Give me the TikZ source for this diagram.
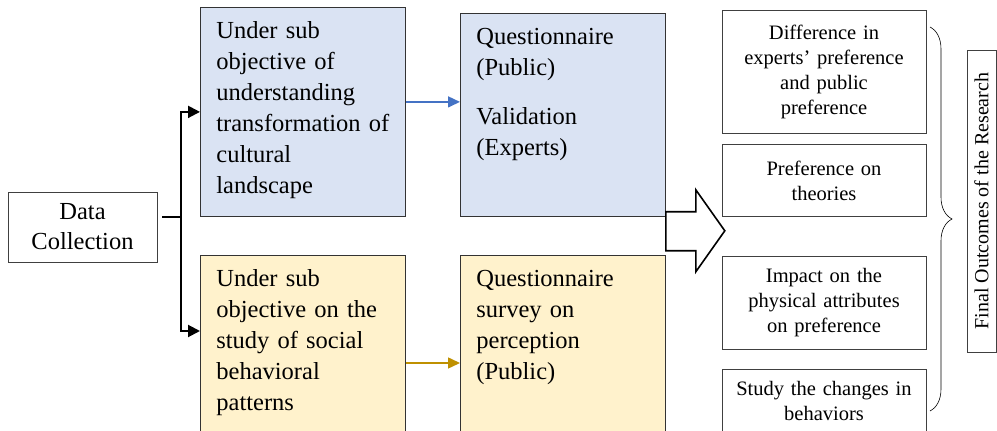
\documentclass[tikz,border=0pt]{standalone}
\usepackage{fontspec}
\setmainfont{Liberation Serif}
\usetikzlibrary{arrows.meta, positioning, decorations.pathreplacing}

\definecolor{subblue}{HTML}{DAE3F3}
\definecolor{subyellow}{HTML}{FFF2CC}
\definecolor{lineblue}{HTML}{4472C4}
\definecolor{linegold}{HTML}{BF9000}

\begin{document}
\begin{tikzpicture}[x=1pt, y=1pt, >=Triangle,
    stagebox/.style={draw=black!80, line width=0.8pt, anchor=north west,
      text width=173pt, inner xsep=16pt, inner ysep=0pt, align=left,
      font=\fontsize{24.5}{31}\selectfont, text height=31pt},
    outbox/.style={draw=black!75, line width=0.7pt, text width=196pt,
      inner xsep=4pt, align=center, font=\fontsize{20.5}{25}\selectfont},
    splitarrow/.style={line width=2pt, -{Triangle[length=12pt, width=12pt]}},
    flowarrow/.style={line width=1.5pt, -{Triangle[length=12pt, width=11pt]}}]
  \useasboundingbox (0,0) rectangle (997,431);

  \node[draw=black!75, line width=0.8pt, text width=141pt, inner xsep=4pt,
        align=center, minimum height=70pt,
        font=\fontsize{24.5}{30}\selectfont] (data) at (82.5,204)
    {Data\\Collection};

  % sub objectives and their instruments
  \node[stagebox, fill=subblue, text depth=178pt] (subA) at (200,424)
    {Under sub\\objective of\\understanding\\transformation of\\cultural\\landscape};
  \node[stagebox, fill=subyellow, text depth=190pt] (subB) at (200,176)
    {Under sub\\objective on the\\study of social\\behavioral\\patterns};
  \node[stagebox, fill=subblue, text depth=172pt] (quesA) at (460,418)
    {Questionnaire\\(Public)\\[18pt]Validation\\(Experts)};
  \node[stagebox, fill=subyellow, text depth=190pt] (quesB) at (460,176)
    {Questionnaire\\survey on\\perception\\(Public)};

  \coordinate (split) at (181,214);
  \draw[line width=2pt, shorten <=5pt] (data.east |- split) -- (split);
  \draw[splitarrow] (split) |- (subA.west);
  \draw[splitarrow] (split) |- ([yshift=-76pt]subB.north west);

  \draw[flowarrow, lineblue] ([yshift=10pt]subA.east)
    -- ([yshift=10pt]subA.east -| quesA.west);
  \draw[flowarrow, linegold] ([yshift=-108pt]subB.north east)
    -- ([yshift=-108pt]subB.north east -| quesB.west);

  % outline arrow towards the outcomes
  \draw[line width=1.6pt, fill=white] (quesA.south east) ++(0,5) -- ++(30,0)
    -- ++(0,22) -- ++(29,-41) -- ++(-29,-41) -- ++(0,21) -- ++(-30,0) -- cycle;

  \node[outbox, minimum height=123pt] (outA) at (824,359.5)
    {Difference in\\experts’ preference\\and public\\preference};
  \node[outbox, minimum height=72pt, below=11pt of outA] (outB)
    {Preference on\\theories};
  \node[outbox, minimum height=93pt, below=39pt of outB] (outC)
    {Impact on the\\physical attributes\\on preference};
  \node[outbox, inner ysep=4pt, text height=22pt, text depth=100pt,
        below=19pt of outC] (outD)
    {Study the changes in\\behaviors};

  \coordinate (braceTop) at (930,404);
  \coordinate (braceBot) at (930,20);
  \draw[line width=0.6pt, decorate, decoration={brace, amplitude=22pt}]
    (braceTop) -- (braceBot);

  \node[draw=black!75, line width=0.7pt, rotate=90, minimum width=302pt,
        minimum height=29pt, inner sep=0pt,
        font=\fontsize{20}{24}\selectfont] (final) at (981.5,230)
    {Final Outcomes of the Research};
\end{tikzpicture}
\end{document}
